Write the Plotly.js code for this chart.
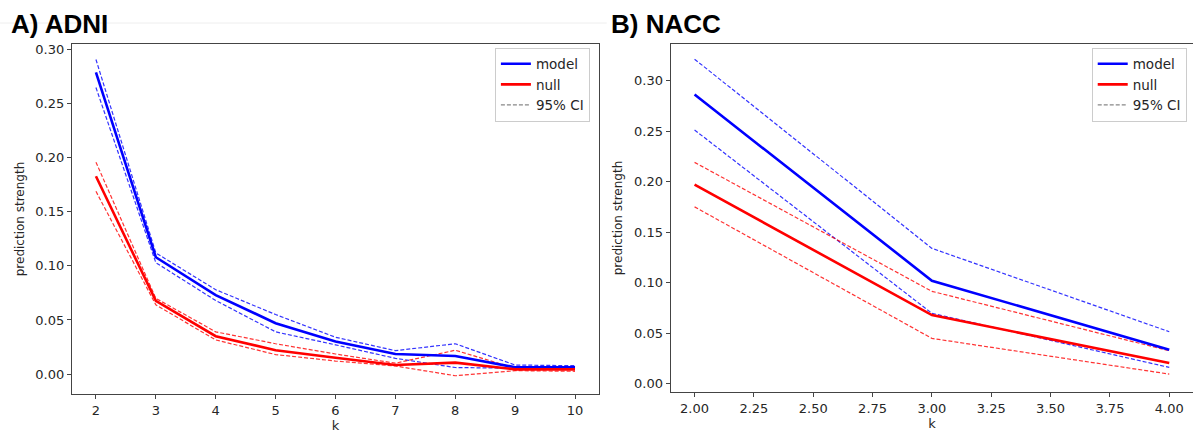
<!DOCTYPE html>
<html>
<head>
<meta charset="utf-8">
<script src="https://cdn.plot.ly/plotly-3.0.1.min.js"></script>
<style>html,body{margin:0;padding:0;background:#fff;}#chart{width:1193px;height:433px;}</style>
</head>
<body>
<div id="chart"></div>
<script>
// ---- data ----
var kAdni = [2, 3, 4, 5, 6, 7, 8, 9, 10];
var adniModel   = [0.279, 0.108, 0.073, 0.047, 0.030, 0.0185, 0.0167, 0.0062, 0.0062];
var adniModelLo = [0.265, 0.103, 0.068, 0.039, 0.027, 0.0145, 0.006, 0.0053, 0.0053];
var adniModelHi = [0.291, 0.112, 0.078, 0.055, 0.034, 0.0216, 0.028, 0.0083, 0.0077];
var adniNull    = [0.183, 0.0676, 0.035, 0.022, 0.015, 0.0083, 0.0105, 0.0043, 0.0043];
var adniNullLo  = [0.169, 0.064, 0.0315, 0.018, 0.012, 0.0074, -0.0016, 0.0031, 0.0025];
var adniNullHi  = [0.196, 0.070, 0.039, 0.028, 0.0185, 0.010, 0.022, 0.0053, 0.0053];

var kNacc = [2, 3, 4];
var naccModel   = [0.286, 0.102, 0.0338];
var naccModelLo = [0.251, 0.0698, 0.0163];
var naccModelHi = [0.321, 0.134, 0.0516];
var naccNull    = [0.197, 0.068, 0.0206];
var naccNullLo  = [0.175, 0.045, 0.0097];
var naccNullHi  = [0.219, 0.0915, 0.0328];

var panelTitles = ["A) ADNI", "B) NACC"];
var seriesNames = ["model", "null", "95% CI"];
var xTitle = "k";
var yTitle = "prediction strength";

// ---- styles ----
var BLUE = "#0000ff", RED = "#ff0000";
var BLUE_CI = "rgba(0,0,255,0.8)", RED_CI = "rgba(255,0,0,0.8)";
var DASH = "4px,2px";
var SOLID_W = 2.6, DASH_W = 1.2;

function solid(x, y, color, name, xa, ya, leg, show) {
  return {x: x, y: y, type: "scatter", mode: "lines", name: name,
    line: {color: color, width: SOLID_W}, xaxis: xa, yaxis: ya,
    legend: leg, showlegend: show, hoverinfo: "skip"};
}
function dashed(x, y, color, xa, ya) {
  return {x: x, y: y, type: "scatter", mode: "lines",
    line: {color: color, width: DASH_W, dash: DASH}, xaxis: xa, yaxis: ya,
    showlegend: false, hoverinfo: "skip"};
}
function ciLegend(xa, ya, leg) {
  return {x: [null], y: [null], type: "scatter", mode: "lines", name: seriesNames[2],
    line: {color: "#888888", width: DASH_W, dash: DASH}, xaxis: xa, yaxis: ya,
    legend: leg, showlegend: true, hoverinfo: "skip"};
}

var traces = [
  dashed(kAdni, adniModelHi, BLUE_CI, "x", "y"),
  dashed(kAdni, adniModelLo, BLUE_CI, "x", "y"),
  dashed(kAdni, adniNullHi, RED_CI, "x", "y"),
  dashed(kAdni, adniNullLo, RED_CI, "x", "y"),
  solid(kAdni, adniModel, BLUE, seriesNames[0], "x", "y", "legend", true),
  solid(kAdni, adniNull, RED, seriesNames[1], "x", "y", "legend", true),
  ciLegend("x", "y", "legend"),

  dashed(kNacc, naccModelHi, BLUE_CI, "x2", "y2"),
  dashed(kNacc, naccModelLo, BLUE_CI, "x2", "y2"),
  dashed(kNacc, naccNullHi, RED_CI, "x2", "y2"),
  dashed(kNacc, naccNullLo, RED_CI, "x2", "y2"),
  solid(kNacc, naccModel, BLUE, seriesNames[0], "x2", "y2", "legend2", true),
  solid(kNacc, naccNull, RED, seriesNames[1], "x2", "y2", "legend2", true),
  ciLegend("x2", "y2", "legend2")
];

var FONT = "DejaVu Sans, sans-serif";
var TXT = "#262626";
function axisBase() {
  return {showline: true, mirror: true, linecolor: "#444", linewidth: 1.2,
    ticks: "outside", ticklen: 4, tickwidth: 1, tickcolor: "#444",
    showgrid: false, zeroline: false, fixedrange: true,
    tickfont: {family: FONT, size: 13, color: TXT}};
}

var xa1 = axisBase(); Object.assign(xa1, {domain: [0, 0.4701], range: [1.6, 10.4], tickvals: kAdni,
  anchor: "y", title: {text: xTitle, font: {family: FONT, size: 13, color: TXT}, standoff: 4}});
var ya1 = axisBase(); Object.assign(ya1, {domain: [0, 1], range: [-0.0185, 0.3053], dtick: 0.05, tick0: 0,
  tickformat: ".2f", anchor: "x", title: {text: yTitle, font: {family: FONT, size: 12, color: TXT}, standoff: 8}});
var xa2 = axisBase(); Object.assign(xa2, {domain: [0.5342, 1], range: [1.9, 4.1], dtick: 0.25, tick0: 2,
  tickformat: ".2f", anchor: "y2", title: {text: xTitle, font: {family: FONT, size: 13, color: TXT}, standoff: 4}});
var ya2 = axisBase(); Object.assign(ya2, {domain: [0.0057, 1], range: [-0.008, 0.336], dtick: 0.05, tick0: 0,
  tickformat: ".2f", anchor: "x2", title: {text: yTitle, font: {family: FONT, size: 12, color: TXT}, standoff: 8}});

var legBase = {bgcolor: "#ffffff", bordercolor: "#cccccc", borderwidth: 1,
  font: {family: FONT, size: 13.5, color: TXT}, xanchor: "right", yanchor: "top",
  tracegroupgap: 0, itemwidth: 30};

var layout = {
  width: 1193, height: 433,
  margin: {l: 72, r: 0, t: 44, b: 39},
  paper_bgcolor: "#ffffff", plot_bgcolor: "#ffffff",
  showlegend: true,
  xaxis: xa1, yaxis: ya1, xaxis2: xa2, yaxis2: ya2,
  legend: Object.assign({}, legBase, {x: 0.462, y: 0.99}),
  legend2: Object.assign({}, legBase, {x: 0.9944, y: 0.99}),
  annotations: [
    {text: "<b>" + panelTitles[0] + "</b>", xref: "paper", yref: "paper",
     x: -0.0562, y: 1.0086, xanchor: "left", yanchor: "bottom", showarrow: false,
     font: {family: "Liberation Sans, Arial, sans-serif", size: 26, color: "#000"}},
    {text: "<b>" + panelTitles[1] + "</b>", xref: "paper", yref: "paper",
     x: 0.4789, y: 1.0086, xanchor: "left", yanchor: "bottom", showarrow: false,
     font: {family: "Liberation Sans, Arial, sans-serif", size: 26, color: "#000"}}
  ],
  shapes: [
    {type: "line", xref: "paper", yref: "paper", x0: -0.0642, x1: 0.477, y0: 1.06, y1: 1.06,
     line: {color: "#eeeeee", width: 1}, layer: "below"}
  ]
};

Plotly.newPlot("chart", traces, layout, {staticPlot: true, displayModeBar: false});
</script>
</body>
</html>
